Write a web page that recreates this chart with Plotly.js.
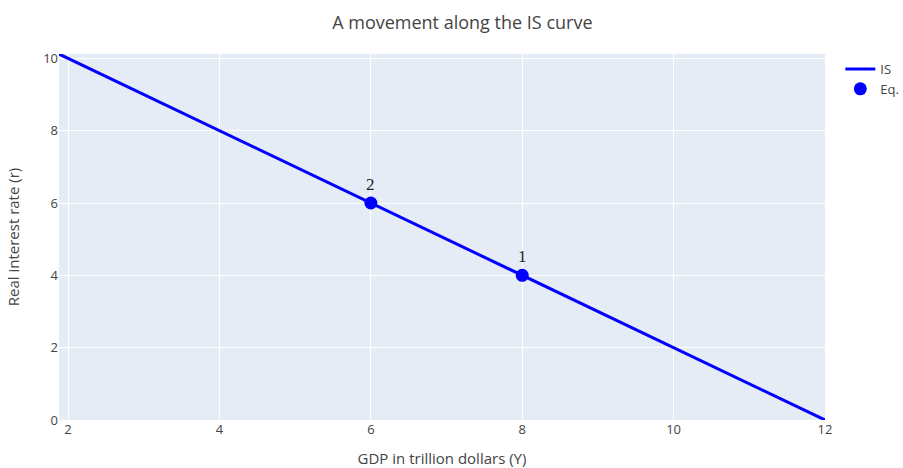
<!DOCTYPE html>
<html>
<head>
<meta charset="utf-8">
<script src="https://cdn.plot.ly/plotly-3.0.1.min.js"></script>
<style>html,body{margin:0;padding:0;}#chart{width:903px;height:468px;}</style>
</head>
<body>
<div id="chart"></div>
<script>
// IS curve
const isY = [1.88, 9, 12];
const isR = [10.12, 3, 0];
// Equilibrium points
const eqY = [8, 6];
const eqR = [4, 6];
const eqLabels = ["1", "2"];

const traces = [
  {x: isY, y: isR, mode: 'lines', name: 'IS', line: {color: 'blue', width: 3}},
  {x: eqY, y: eqR, mode: 'markers', name: 'Eq.', marker: {color: 'blue', size: 13}}
];

const annotations = eqY.map((v, i) => ({
  x: v, y: eqR[i], text: eqLabels[i], showarrow: false, yshift: 19,
  font: {family: 'Liberation Serif, Times New Roman, serif', size: 17, color: '#222'}
}));

const layout = {
  width: 903, height: 468,
  margin: {l: 59, r: 78, t: 54, b: 48, autoexpand: false},
  paper_bgcolor: 'white', plot_bgcolor: '#E5ECF6',
  font: {family: 'Open Sans, sans-serif', color: '#444', size: 13},
  title: {text: 'A movement along the IS curve', x: 0.512, xanchor: 'center', y: 0.965, font: {size: 18}},
  xaxis: {title: {text: 'GDP in trillion dollars (Y)', font: {size: 15}}, range: [1.88, 12], gridcolor: 'white', zeroline: false, tickvals: [2,4,6,8,10,12], tickfont: {size: 13}},
  yaxis: {title: {text: 'Real interest rate (r)', font: {size: 15}}, range: [0, 10.12], gridcolor: 'white', zeroline: false, tickvals: [0,2,4,6,8,10], tickfont: {size: 13}},
  legend: {x: 1.02, y: 1, font: {size: 13}},
  annotations: annotations
};

Plotly.newPlot('chart', traces, layout, {displayModeBar: false});
</script>
</body>
</html>
